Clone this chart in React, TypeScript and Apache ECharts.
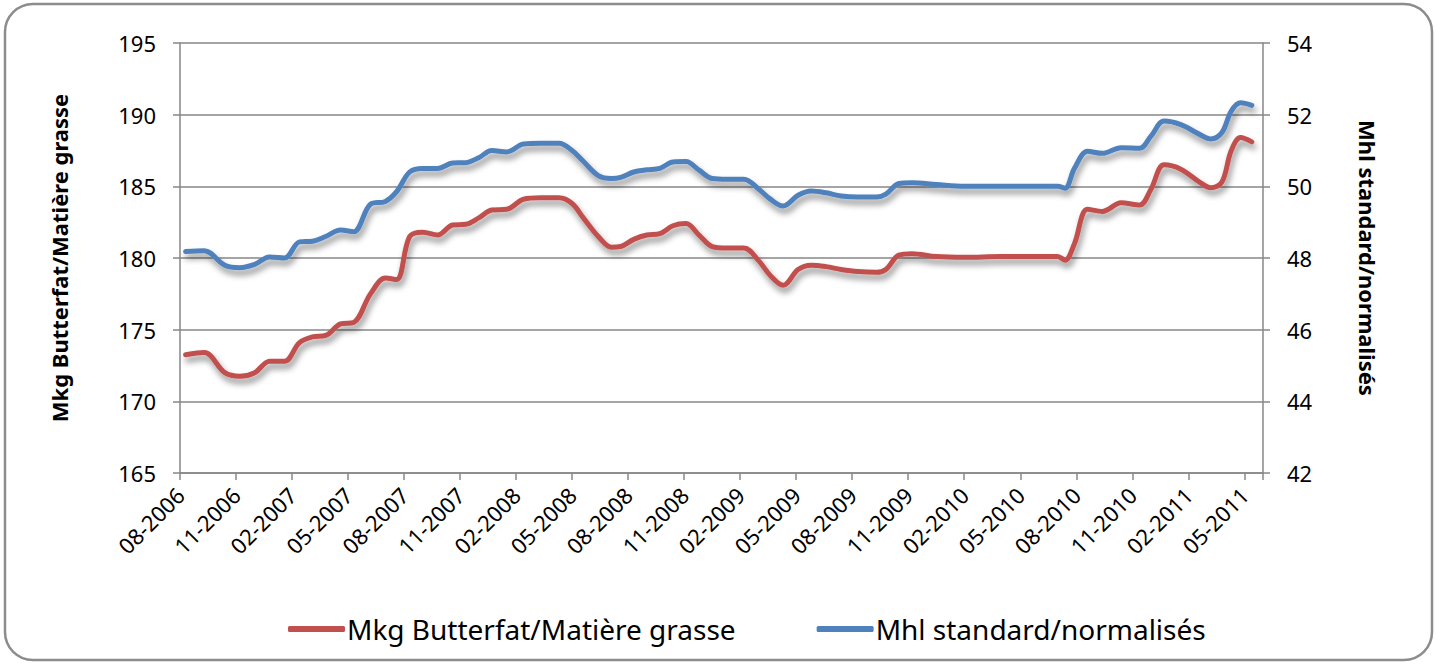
import React, { useEffect, useRef } from "react";
import * as echarts from "echarts";

// Month index since 08-2006 (0 = Aug 2006)
const months = [
  0.3, 1.3, 2.4, 3.2, 4.0, 4.8, 5.6, 6.4, 7.1, 7.8, 8.6, 9.3, 10.2, 11.0, 11.6, 12.3, 13.0, 13.8,
  14.6, 15.3, 16.0, 16.7, 17.5, 18.4, 19.3, 20.3, 21.0, 21.6, 22.4, 23.1, 23.6, 24.3, 25.0, 25.7,
  26.4, 27.1, 27.8, 28.5, 29.3, 30.2, 31.0, 31.6, 32.3, 33.1, 33.8, 34.6, 35.4, 36.3, 37.3, 37.8,
  38.5, 39.2, 40.5, 42.0, 44.0, 46.0, 47.0, 47.4, 47.9, 48.6, 49.4, 50.4, 51.4, 52.0, 52.7, 53.6,
  54.6, 55.2, 55.8, 56.3, 56.8, 57.4,
];

// Mkg Butterfat / Matière grasse (left axis)
const butterfat = [
  173.25, 173.4, 172.0, 171.75, 172.0, 172.8, 172.8, 174.1, 174.5, 174.6, 175.4, 175.5, 177.5, 178.6,
  178.5, 181.5, 181.8, 181.6, 182.3, 182.35, 182.8, 183.35, 183.4, 184.1, 184.2, 184.2, 183.8, 182.8,
  181.5, 180.75, 180.8, 181.3, 181.6, 181.7, 182.25, 182.4, 181.6, 180.8, 180.7, 180.7, 179.8, 178.8,
  178.1, 179.2, 179.5, 179.4, 179.2, 179.05, 179.0, 179.2, 180.2, 180.3, 180.1, 180.05, 180.1, 180.1,
  180.1, 179.85, 181.0, 183.4, 183.25, 183.85, 183.7, 184.8, 186.5, 186.2, 185.3, 184.9, 185.3, 187.5,
  188.4, 188.1,
];

// Mhl standard / normalisés (right axis)
const volume = [
  48.18, 48.2, 47.8, 47.73, 47.82, 48.03, 48.0, 48.45, 48.47, 48.6, 48.78, 48.73, 49.5, 49.58, 49.85,
  50.4, 50.5, 50.5, 50.65, 50.66, 50.8, 51.0, 50.96, 51.18, 51.2, 51.2, 51.0, 50.7, 50.3, 50.22, 50.25,
  50.4, 50.46, 50.5, 50.68, 50.69, 50.45, 50.22, 50.2, 50.2, 49.92, 49.65, 49.45, 49.75, 49.87, 49.82,
  49.73, 49.7, 49.7, 49.78, 50.08, 50.1, 50.05, 50.0, 50.0, 50.0, 50.0, 49.95, 50.5, 50.98, 50.92,
  51.08, 51.06, 51.4, 51.82, 51.72, 51.45, 51.32, 51.5, 52.1, 52.33, 52.26,
];

const seriesNames = ["Mkg Butterfat/Matière grasse", "Mhl standard/normalisés"];
const leftAxisTitle = "Mkg Butterfat/Matière grasse";
const rightAxisTitle = "Mhl standard/normalisés";

function monthLabel(i: number): string {
  const m = ((7 + i) % 12) + 1;
  const y = 2006 + Math.floor((7 + i) / 12);
  return (m < 10 ? "0" + m : "" + m) + "-" + y;
}

const FONT = "'Noto Sans', sans-serif";
const GRID = "#878787";

export default function App() {
  const ref = useRef<HTMLDivElement>(null);
  useEffect(() => {
    if (!ref.current) return;
    const chart = echarts.init(ref.current, undefined, { renderer: "svg" });
    const shadow = {
      shadowColor: "rgba(0,0,0,0.45)",
      shadowBlur: 6,
      shadowOffsetX: 2,
      shadowOffsetY: 5,
    };
    chart.setOption({
      animation: false,
      backgroundColor: "#ffffff",
      textStyle: { fontFamily: FONT },
      graphic: [
        {
          type: "rect",
          shape: { x: 5, y: 4, width: 1427, height: 656, r: 28 },
          style: { fill: "none", stroke: "#8c8c8c", lineWidth: 2.5 },
          silent: true,
        },
      ],
      grid: { left: 180, right: 174, top: 43, bottom: 191, containLabel: false },
      legend: {
        top: 610,
        left: 283,
        itemWidth: 57,
        itemHeight: 6,
        itemGap: 81,
        icon: "roundRect",
        textStyle: { fontFamily: FONT, fontSize: 28, color: "#000", padding: [0, 0, 0, -3] },
        data: seriesNames,
      },
      xAxis: {
        type: "value",
        min: 0,
        max: 58,
        interval: 3,
        axisLine: { show: true, lineStyle: { color: GRID, width: 1.5 } },
        axisTick: { show: true, length: 7, lineStyle: { color: GRID, width: 1.5 } },
        splitLine: { show: false },
        axisLabel: {
          rotate: 45,
          margin: 18,
          fontSize: 22,
          color: "#000",
          fontFamily: FONT,
          formatter: (v: number) => (v % 3 === 0 && v <= 57 ? monthLabel(v) : ""),
        },
      },
      yAxis: [
        {
          type: "value",
          min: 165,
          max: 195,
          interval: 5,
          position: "left",
          name: leftAxisTitle,
          nameLocation: "middle",
          nameGap: 110,
          nameTextStyle: { fontFamily: FONT, fontSize: 22, fontWeight: "bold", color: "#000" },
          axisLine: { show: true, lineStyle: { color: GRID, width: 1.5 } },
          axisTick: { show: true, length: 7, lineStyle: { color: GRID, width: 1.5 } },
          splitLine: { show: true, lineStyle: { color: GRID, width: 1.5 } },
          axisLabel: { fontSize: 22, color: "#000", margin: 24, fontFamily: FONT },
        },
        {
          type: "value",
          min: 42,
          max: 54,
          interval: 2,
          position: "right",
          name: rightAxisTitle,
          nameLocation: "middle",
          nameGap: 94,
          nameRotate: -90,
          nameTextStyle: { fontFamily: FONT, fontSize: 22, fontWeight: "bold", color: "#000" },
          axisLine: { show: true, lineStyle: { color: GRID, width: 1.5 } },
          axisTick: { show: true, length: 7, lineStyle: { color: GRID, width: 1.5 } },
          splitLine: { show: false },
          axisLabel: { fontSize: 22, color: "#000", margin: 24, fontFamily: FONT },
        },
      ],
      series: [
        {
          name: seriesNames[0],
          type: "line",
          yAxisIndex: 0,
          smooth: 0.35,
          symbol: "none",
          color: "#C0504D",
          lineStyle: { width: 5, color: "#C0504D", cap: "round", join: "round", ...shadow },
          data: months.map((m, i) => [m, butterfat[i]]),
        },
        {
          name: seriesNames[1],
          type: "line",
          yAxisIndex: 1,
          smooth: 0.35,
          symbol: "none",
          color: "#4F81BD",
          lineStyle: { width: 5, color: "#4F81BD", cap: "round", join: "round", ...shadow },
          data: months.map((m, i) => [m, volume[i]]),
        },
      ],
    });
    return () => chart.dispose();
  }, []);
  return (
    <div
      ref={ref}
      style={{ position: "absolute", left: 0, top: 0, width: 1437, height: 664 }}
    />
  );
}
